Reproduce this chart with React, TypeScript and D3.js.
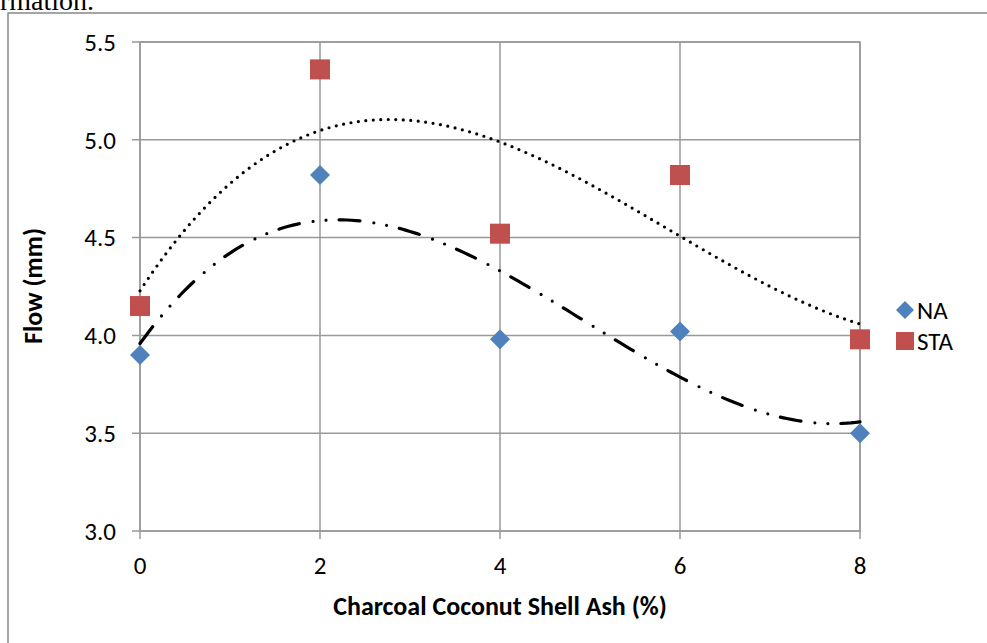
import React from "react";
import * as d3 from "d3";

const categories = [0, 2, 4, 6, 8];
const naValues = [3.9, 4.82, 3.98, 4.02, 3.5];
const staValues = [4.15, 5.36, 4.52, 4.82, 3.98];
const yTicks = [3.0, 3.5, 4.0, 4.5, 5.0, 5.5];
const xTicks = [0, 2, 4, 6, 8];
const seriesNames = ["NA", "STA"];

const W = 987;
const H = 643;
const M = { left: 140, top: 42, right: 860, bottom: 531 };
const FONT = "Carlito, Calibri, Lato, 'Open Sans', sans-serif";
const FS = 25;

function cubicFit(xs: number[], ys: number[]) {
  const n = 4;
  const A: number[][] = [];
  for (let i = 0; i < n; i++) {
    const row: number[] = [];
    for (let j = 0; j < n; j++) row.push(d3.sum(xs, (x) => Math.pow(x, i + j)));
    row.push(d3.sum(xs.map((x, k) => Math.pow(x, i) * ys[k])));
    A.push(row);
  }
  for (let c = 0; c < n; c++) {
    let p = c;
    for (let r = c + 1; r < n; r++) if (Math.abs(A[r][c]) > Math.abs(A[p][c])) p = r;
    [A[c], A[p]] = [A[p], A[c]];
    for (let r = 0; r < n; r++) {
      if (r === c) continue;
      const f = A[r][c] / A[c][c];
      for (let k = c; k <= n; k++) A[r][k] -= f * A[c][k];
    }
  }
  const coef = A.map((row, i) => row[n] / row[i]);
  return (x: number) => coef.reduce((s, c, i) => s + c * Math.pow(x, i), 0);
}

export default function App() {
  const x = d3.scaleLinear().domain([0, 8]).range([M.left, M.right]);
  const y = d3.scaleLinear().domain([3, 5.5]).range([M.bottom, M.top]);
  const naFit = cubicFit(categories, naValues);
  const staFit = cubicFit(categories, staValues);
  const samples = d3.range(0, 8.0001, 0.05);
  const naTrend = d3
    .line<number>()
    .x((d) => x(d))
    .y((d) => y(naFit(d)))(samples) || "";
  const staTrend = d3
    .line<number>()
    .x((d) => x(d))
    .y((d) => y(staFit(d)))(samples) || "";
  const grid = "#999999";
  const blue = "#4F81BD";
  const red = "#C0504D";
  const diamond = (cx: number, cy: number, r: number) =>
    `M${cx},${cy - r}L${cx + r},${cy}L${cx},${cy + r}L${cx - r},${cy}Z`;

  return (
    <svg
      width={W}
      height={H}
      style={{ position: "absolute", left: 0, top: 0, background: "#fff" }}
    >
      <text x={0} y={10} fontFamily="'Liberation Serif', 'Times New Roman', serif" fontSize={28} fill="#000">
        rmation.
      </text>
      <rect x={8} y={13} width={1000} height={700} fill="none" stroke="#888" strokeWidth={1.5} />
      {/* grid */}
      {yTicks.map((t) => (
        <line key={"gy" + t} x1={M.left - 8} x2={M.right} y1={y(t)} y2={y(t)} stroke={grid} strokeWidth={1.5} />
      ))}
      {xTicks.map((t) => (
        <line key={"gx" + t} x1={x(t)} x2={x(t)} y1={M.top} y2={M.bottom + 8} stroke={grid} strokeWidth={1.5} />
      ))}
      <rect x={M.left} y={M.top} width={M.right - M.left} height={M.bottom - M.top} fill="none" stroke={grid} strokeWidth={1.5} />
      {/* tick labels */}
      {yTicks.map((t) => (
        <text key={"ly" + t} x={116} y={y(t)} dy="0.35em" textAnchor="end" fontFamily={FONT} fontSize={FS} fill="#000">
          {t.toFixed(1)}
        </text>
      ))}
      {xTicks.map((t) => (
        <text key={"lx" + t} x={x(t)} y={565} dy="0.35em" textAnchor="middle" fontFamily={FONT} fontSize={FS} fill="#000">
          {t}
        </text>
      ))}
      {/* axis titles */}
      <text x={500} y={606} dy="0.35em" textAnchor="middle" fontFamily={FONT} fontWeight="bold" fontSize={26} fill="#000">
        Charcoal Coconut Shell Ash (%)
      </text>
      <text
        transform={`translate(33,286) rotate(-90)`}
        dy="0.35em"
        textAnchor="middle"
        fontFamily={FONT}
        fontWeight="bold"
        fontSize={26}
        fill="#000"
      >
        Flow (mm)
      </text>
      {/* trendlines */}
      <path d={staTrend} fill="none" stroke="#000" strokeWidth={3.2} strokeLinecap="round" strokeDasharray="0 7.5" />
      <path d={naTrend} fill="none" stroke="#000" strokeWidth={3.2} strokeLinecap="round" strokeDasharray="21 14 0 13 0 13" />
      {/* markers */}
      {categories.map((c, i) => (
        <path key={"na" + c} d={diamond(x(c), y(naValues[i]), 10)} fill={blue} />
      ))}
      {categories.map((c, i) => (
        <rect key={"sta" + c} x={x(c) - 10} y={y(staValues[i]) - 10} width={20} height={20} fill={red} />
      ))}
      {/* legend */}
      <path d={diamond(905, 310, 9)} fill={blue} />
      <text x={917} y={310} dy="0.35em" fontFamily={FONT} fontSize={FS} fill="#000">
        {seriesNames[0]}
      </text>
      <rect x={896} y={332} width={18} height={18} fill={red} />
      <text x={917} y={341} dy="0.35em" fontFamily={FONT} fontSize={FS} fill="#000">
        {seriesNames[1]}
      </text>
    </svg>
  );
}
